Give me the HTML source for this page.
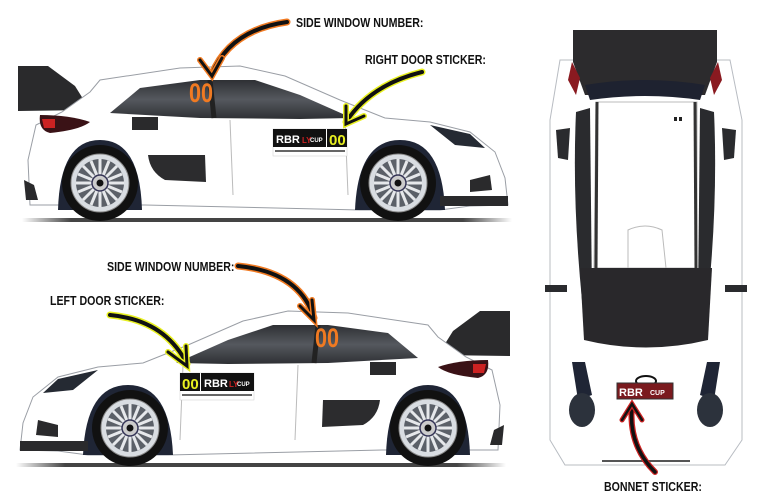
<!DOCTYPE html>
<html><head><meta charset="utf-8"><style>
html,body{margin:0;padding:0;background:#fff;}
svg{display:block}
text{font-family:"Liberation Sans",sans-serif;font-weight:bold}
</style></head><body>
<svg width="780" height="503" viewBox="0 0 780 503" xmlns="http://www.w3.org/2000/svg">
<defs>
<linearGradient id="gs" x1="0" x2="1"><stop offset="0" stop-color="#fff"/><stop offset=".1" stop-color="#444"/><stop offset=".9" stop-color="#444"/><stop offset="1" stop-color="#fff"/></linearGradient>
<linearGradient id="win" x1="0" x2="0" y1="0" y2="1"><stop offset="0" stop-color="#2e3034"/><stop offset=".5" stop-color="#55585e"/><stop offset="1" stop-color="#2e3034"/></linearGradient>
<g id="wheel">
<circle r="38" fill="#111"/>
<circle r="29" fill="#d9dde2" stroke="#888" stroke-width="1"/>
<circle r="24" fill="#5b6068"/>
<g stroke="#e6e8eb" stroke-width="3">
<line x1="-24" y1="0" x2="24" y2="0"/><line x1="0" y1="-24" x2="0" y2="24"/>
<line x1="-17" y1="-17" x2="17" y2="17"/><line x1="-17" y1="17" x2="17" y2="-17"/>
<line x1="-22" y1="-9" x2="22" y2="9"/><line x1="-22" y1="9" x2="22" y2="-9"/>
<line x1="-9" y1="-22" x2="9" y2="22"/><line x1="9" y1="-22" x2="-9" y2="22"/>
</g>
<circle r="8" fill="#ccc" stroke="#335" stroke-width="1.5"/><circle r="3.5" fill="#111"/>
</g>
<g id="car">
<rect x="22" y="218" width="490" height="4" fill="url(#gs)"/>
<path d="M18 66 L48 66 L75 86 L90 110 L18 111 Z" fill="#2a2a2c"/>
<path d="M30 205 L28 160 L36 125 L62 112 L90 92 L100 80 L180 68 L240 66 L285 76 L340 100 L385 118 L430 122 L470 132 L495 152 L505 178 L508 205 L470 206 L440 210 L360 210 L145 205 Z" fill="#fff" stroke="#9a9ea5" stroke-width="1"/>
<path d="M110 113 L140 88 L200 80 L255 80 L300 95 L352 118 L300 119 L200 118 Z" fill="url(#win)"/>
<path d="M210 80 L214 118" stroke="#222" stroke-width="5"/>
<path d="M40 115 Q70 115 90 122 Q80 130 50 133 Q38 130 40 115Z" fill="#3a1216"/>
<path d="M42 119 L55 119 L55 128 L44 128Z" fill="#c22"/>
<path d="M430 125 L470 134 L485 148 L455 145Z" fill="#252a33"/>
<rect x="132" y="117" width="26" height="13" fill="#2a2a2c"/>
<path d="M148 155 L205 155 L206 182 L165 180 Q150 172 148 155Z" fill="#2c2c2e"/>
<path d="M58 210 Q60 140 100 140 Q140 140 142 210Z" fill="#1f2535"/>
<path d="M355 210 Q358 140 400 140 Q442 140 445 210Z" fill="#1f2535"/>
<use href="#wheel" x="100" y="183"/>
<use href="#wheel" x="398" y="183"/>
<rect x="440" y="196" width="68" height="10" fill="#2a2a2c"/>
<path d="M24 180 L34 185 L38 200 L26 200Z" fill="#2a2a2c"/>
<path d="M470 180 L490 175 L492 190 L470 192Z" fill="#2a2a2c"/>
<line x1="230" y1="120" x2="233" y2="195" stroke="#bbb"/>
<line x1="345" y1="120" x2="348" y2="195" stroke="#bbb"/>
</g>
</defs>

<use href="#car"/>
<use href="#car" transform="translate(528,245) scale(-1,1)"/>

<text x="189" y="102" font-size="27" fill="#f07a22" transform="translate(189,0) scale(.8,1) translate(-189,0)" font-weight="normal">00</text>
<rect x="273" y="129" width="74" height="27" fill="#fff" stroke="#ccc" stroke-width=".5"/>
<rect x="273" y="129" width="53" height="18" fill="#111"/>
<text x="276" y="143" font-size="11" fill="#fff">RBR</text>
<text x="302" y="143" font-size="8" fill="#c22">LY</text>
<text x="310" y="142" font-size="6" fill="#fff">CUP</text>
<rect x="327" y="129" width="20" height="18" fill="#111"/>
<text x="329" y="145" font-size="15" fill="#e8f020" font-weight="normal">00</text>
<rect x="275" y="150" width="70" height="2" fill="#666"/>

<text x="315" y="347" font-size="27" fill="#f07a22" transform="translate(315,0) scale(.8,1) translate(-315,0)" font-weight="normal">00</text>
<rect x="180" y="373" width="74" height="27" fill="#fff" stroke="#ccc" stroke-width=".5"/>
<rect x="180" y="373" width="20" height="18" fill="#111"/>
<text x="182" y="389" font-size="15" fill="#e8f020" font-weight="normal">00</text>
<rect x="201" y="373" width="53" height="18" fill="#111"/>
<text x="204" y="387" font-size="11" fill="#fff">RBR</text>
<text x="229" y="387" font-size="8" fill="#c22">LY</text>
<text x="237" y="386" font-size="6" fill="#fff">CUP</text>
<rect x="182" y="394" width="70" height="2" fill="#666"/>

<!-- top view car -->
<path d="M560 60 L730 60 L742 120 L742 440 L725 465 L565 465 L550 440 L550 120Z" fill="#fff" stroke="#b8bcc2"/>
<path d="M573 30 L717 30 L717 62 L705 95 L585 95 L573 62Z" fill="#2c2b2d"/>
<path d="M585 85 Q645 75 705 85 L700 100 Q645 92 590 100Z" fill="#1e2230"/>
<path d="M572 62 L580 78 L576 95 L568 80Z" fill="#8a1a20"/>
<path d="M718 62 L710 78 L714 95 L722 80Z" fill="#8a1a20"/>
<path d="M576 112 L590 108 L592 300 L582 300 Q572 200 576 112Z" fill="#2a2b2e"/>
<path d="M714 112 L700 108 L698 300 L708 300 Q718 200 714 112Z" fill="#2a2b2e"/>
<path d="M596 102 L697 102 L697 268 L594 268Z" fill="#fff" stroke="#bbb"/>
<line x1="597" y1="102" x2="596" y2="268" stroke="#333" stroke-width="3"/>
<line x1="695" y1="102" x2="696" y2="268" stroke="#333" stroke-width="3"/>
<rect x="674" y="117" width="3" height="4" fill="#222"/><rect x="679" y="117" width="3" height="4" fill="#222"/>
<path d="M628 268 L628 230 Q645 222 662 230 L666 268" fill="none" stroke="#bbb"/>
<path d="M580 268 L712 268 L708 340 Q646 355 584 340Z" fill="#29282b"/>
<path d="M556 130 L570 128 L568 160 L558 158Z" fill="#2a2b2e"/>
<path d="M736 130 L722 128 L724 160 L734 158Z" fill="#2a2b2e"/>
<rect x="545" y="285" width="22" height="7" fill="#2a2b2e"/>
<rect x="725" y="285" width="22" height="7" fill="#2a2b2e"/>
<path d="M572 362 L585 362 L592 395 L578 400Z" fill="#1f2535"/>
<path d="M720 362 L707 362 L700 395 L714 400Z" fill="#1f2535"/>
<ellipse cx="582" cy="410" rx="13" ry="17" fill="#2c323c"/>
<ellipse cx="710" cy="410" rx="13" ry="17" fill="#2c323c"/>
<ellipse cx="646" cy="381" rx="10" ry="5" fill="#fff" stroke="#111" stroke-width="2"/>
<rect x="617" y="383" width="56" height="16" fill="#7a1a1e" stroke="#333"/>
<text x="619" y="396" font-size="11" fill="#fff">RBR</text>
<text x="650" y="395" font-size="7" fill="#fff">CUP</text>
<rect x="602" y="460" width="88" height="2" fill="#555"/>

<g fill="none" stroke-linecap="round">
<path d="M287 22 Q230 30 212 74" stroke="#f07a22" stroke-width="7"/>
<path d="M287 22 Q230 30 212 74" stroke="#111" stroke-width="4"/>
<path d="M200 60 L212 76 L222 58" stroke="#f07a22" stroke-width="6"/>
<path d="M200 60 L212 76 L222 58" stroke="#111" stroke-width="3"/>
<path d="M422 72 Q370 85 346 122" stroke="#e8f020" stroke-width="7"/>
<path d="M422 72 Q370 85 346 122" stroke="#111" stroke-width="4"/>
<path d="M346 106 L346 124 L364 116" stroke="#e8f020" stroke-width="6"/>
<path d="M346 106 L346 124 L364 116" stroke="#111" stroke-width="3"/>
<path d="M238 266 Q300 272 314 318" stroke="#f07a22" stroke-width="7"/>
<path d="M238 266 Q300 272 314 318" stroke="#111" stroke-width="4"/>
<path d="M300 306 L314 320 L312 300" stroke="#f07a22" stroke-width="6"/>
<path d="M300 306 L314 320 L312 300" stroke="#111" stroke-width="3"/>
<path d="M110 315 Q165 320 187 364" stroke="#e8f020" stroke-width="7"/>
<path d="M110 315 Q165 320 187 364" stroke="#111" stroke-width="4"/>
<path d="M168 352 L187 366 L186 346" stroke="#e8f020" stroke-width="6"/>
<path d="M168 352 L187 366 L186 346" stroke="#111" stroke-width="3"/>
<path d="M655 472 Q628 445 632 406" stroke="#c22" stroke-width="6"/>
<path d="M655 472 Q628 445 632 406" stroke="#111" stroke-width="3.5"/>
<path d="M622 420 L632 404 L642 420" stroke="#c22" stroke-width="5"/>
<path d="M622 420 L632 404 L642 420" stroke="#111" stroke-width="2.5"/>
</g>

<g font-size="12.5" fill="#111">
<text x="296" y="27" transform="translate(296,0) scale(.85,1) translate(-296,0)">SIDE WINDOW NUMBER:</text>
<text x="365" y="64" transform="translate(365,0) scale(.85,1) translate(-365,0)">RIGHT DOOR STICKER:</text>
<text x="107" y="271" transform="translate(107,0) scale(.85,1) translate(-107,0)">SIDE WINDOW NUMBER:</text>
<text x="50" y="305" transform="translate(50,0) scale(.85,1) translate(-50,0)">LEFT DOOR STICKER:</text>
<text x="604" y="491" transform="translate(604,0) scale(.85,1) translate(-604,0)">BONNET STICKER:</text>
</g>
</svg>
</body></html>
